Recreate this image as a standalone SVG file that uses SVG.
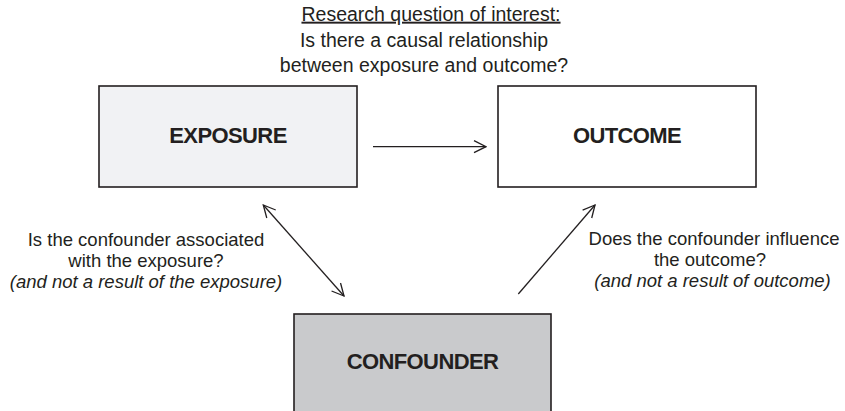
<svg xmlns="http://www.w3.org/2000/svg" width="845" height="411" viewBox="0 0 845 411">
  <defs>
    <style>
      .box { stroke: #231f20; stroke-width: 1.6; }
      .label { font-family: "Liberation Sans", Arial, sans-serif; font-weight: bold; font-size: 22px; letter-spacing: -0.6px; fill: #231f20; text-anchor: middle; }
      .note { font-family: "Liberation Sans", Arial, sans-serif; font-size: 18.5px; fill: #231f20; text-anchor: middle; }
      .title { font-family: "Liberation Sans", Arial, sans-serif; font-size: 19.5px; fill: #231f20; text-anchor: middle; }
      .it { font-style: italic; }
      .link { stroke: #231f20; stroke-width: 1.3; fill: none; }
    </style>
    <marker id="head" viewBox="0 0 14 14" refX="13" refY="7" markerWidth="14" markerHeight="14" markerUnits="userSpaceOnUse" orient="auto-start-reverse">
      <path d="M1,1 L13,7 L1,13" fill="none" stroke="#231f20" stroke-width="1.3"/>
    </marker>
  </defs>

  <rect width="845" height="411" fill="#ffffff"/>

  <!-- research question -->
  <g id="question">
    <text class="title" x="431" y="20.7" text-decoration="underline">Research question of interest:</text>
    <text class="title" x="424" y="46.5">Is there a causal relationship</text>
    <text class="title" x="424" y="72">between exposure and outcome?</text>
  </g>

  <g id="exposure">
    <rect class="box" x="99" y="86" width="258" height="101" fill="#f1f2f4"/>
    <text class="label" x="228" y="142.7">EXPOSURE</text>
  </g>

  <g id="outcome">
    <rect class="box" x="498" y="86" width="258" height="101" fill="#ffffff"/>
    <text class="label" x="627" y="142.7">OUTCOME</text>
  </g>

  <g id="confounder">
    <rect class="box" x="294" y="314" width="257" height="110" fill="#c9cacc"/>
    <text class="label" x="422.5" y="369.3">CONFOUNDER</text>
  </g>

  <!-- connectors -->
  <g id="connectors">
    <line class="link" x1="373" y1="146.7" x2="486" y2="146.7" marker-end="url(#head)"/>
    <line class="link" x1="263.3" y1="205" x2="344" y2="296" marker-start="url(#head)" marker-end="url(#head)"/>
    <line class="link" x1="518.3" y1="294" x2="595" y2="205" marker-end="url(#head)"/>
  </g>

  <g id="note-left">
    <text class="note" x="146" y="245.7">Is the confounder associated</text>
    <text class="note" x="146" y="266.7">with the exposure?</text>
    <text class="note it" x="146" y="288">(and not a result of the exposure)</text>
  </g>

  <g id="note-right">
    <text class="note" x="714" y="245">Does the confounder influence</text>
    <text class="note" x="710" y="266">the outcome?</text>
    <text class="note it" x="712.5" y="286.7">(and not a result of outcome)</text>
  </g>
</svg>
